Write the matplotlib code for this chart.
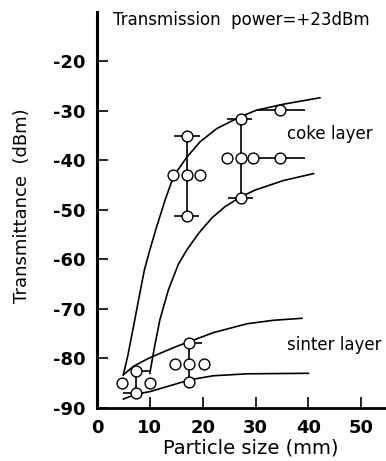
import matplotlib.pyplot as plt

plt.rcParams['axes.unicode_minus'] = False

# smooth curves
coke_upper_x = [4.98, 5.8, 6.9, 8.1, 8.96, 10.0, 11.3, 12.9, 14.5, 17.0, 19.5, 22.7, 26.8, 30.2, 35.3, 42.2]
coke_upper_y = [-83.3, -79.6, -73.6, -66.9, -62.2, -58.1, -53.4, -48.0, -43.2, -39.4, -36.3, -33.6, -31.4, -29.9, -28.7, -27.4]
coke_lower_x = [10.0, 10.9, 11.9, 13.5, 15.4, 17.0, 19.2, 21.7, 24.2, 27.2, 30.0, 35.3, 41.0]
coke_lower_y = [-83.0, -77.6, -72.2, -66.2, -61.0, -58.1, -54.8, -51.7, -49.4, -47.4, -46.0, -44.1, -42.7]
sinter_upper_x = [4.98, 6.9, 9.7, 13.2, 15.0, 17.5, 22.0, 28.4, 33.4, 38.8]
sinter_upper_y = [-83.3, -81.6, -80.0, -78.4, -77.6, -76.6, -74.8, -73.0, -72.3, -71.9]
sinter_lower_x = [5.0, 7.4, 10.0, 13.2, 17.6, 22.0, 28.4, 40.0]
sinter_lower_y = [-88.2, -87.2, -86.7, -85.7, -84.3, -83.5, -83.1, -83.0]

# measured points
coke_x = [14.4, 17.0, 19.5, 17.0, 17.0, 24.7, 27.2, 29.6, 34.7, 27.2, 27.2, 34.7]
coke_y = [-42.9, -42.9, -42.9, -35.2, -51.3, -39.5, -39.5, -39.5, -39.5, -31.6, -47.7, -29.9]
sinter_x = [4.7, 7.4, 10.0, 7.4, 14.8, 17.5, 20.3, 17.5, 17.5]
sinter_y = [-85.0, -82.6, -85.0, -87.0, -81.1, -81.1, -81.1, -76.9, -84.7]

# vertical range bars
range_x = [17.0, 27.2, 7.4, 17.5]
range_top = [-35.2, -31.6, -82.6, -76.9]
range_bot = [-51.3, -47.7, -87.0, -84.7]

# horizontal bars: start, end, level
hbar_x0 = [14.5, 14.6, 24.6, 24.8, 6.4, 4.9, 17.5, 29.6, 30.2]
hbar_x1 = [19.5, 19.3, 29.4, 29.6, 10.0, 8.7, 19.8, 39.4, 39.4]
hbar_y = [-35.2, -51.3, -31.6, -47.7, -82.6, -87.0, -76.9, -39.5, -29.9]

x_ticks = [0, 10, 20, 30, 40, 50]
y_ticks = [-90, -80, -70, -60, -50, -40, -30, -20]

fig = plt.figure(figsize=(3.86, 4.61), dpi=100)
ax = fig.add_axes([97 / 386, 53 / 461, 289 / 386, 396 / 461])

lw = 1.2
for xs, ys in [(coke_upper_x, coke_upper_y), (coke_lower_x, coke_lower_y),
               (sinter_upper_x, sinter_upper_y), (sinter_lower_x, sinter_lower_y)]:
    ax.plot(xs, ys, color='black', lw=lw, zorder=2)

ax.vlines(range_x, range_bot, range_top, color='black', lw=lw, zorder=2)
ax.hlines(hbar_y, hbar_x0, hbar_x1, color='black', lw=lw, zorder=2)

ax.plot(coke_x, coke_y, 'o', ms=7.8, mfc='white', mec='black', mew=1.0, zorder=3)
ax.plot(sinter_x, sinter_y, 'o', ms=7.8, mfc='white', mec='black', mew=1.0, zorder=3)

ax.text(36.0, -34.7, 'coke layer', fontsize=12, va='center')
ax.text(36.0, -77.3, 'sinter layer', fontsize=12, va='center')
ax.text(3.0, -11.8, 'Transmission  power=+23dBm', fontsize=12, va='center')

ax.set_xlim(0, 54.7)
ax.set_ylim(-90, -10.1)
ax.set_xticks(x_ticks)
ax.set_yticks(y_ticks)
ax.tick_params(direction='in', length=8, width=1.2, labelsize=13, pad=8)
for lab in ax.get_xticklabels() + ax.get_yticklabels():
    lab.set_fontweight('bold')
ax.spines['top'].set_visible(False)
ax.spines['right'].set_visible(False)
ax.spines['left'].set_linewidth(2.2)
ax.spines['bottom'].set_linewidth(2.0)

fig.text(22 / 386, 1 - 206 / 461, 'Transmittance  (dBm)', rotation=90,
         fontsize=13, ha='center', va='center')
fig.text(251 / 386, 1 - 448 / 461, 'Particle size (mm)', fontsize=14,
         ha='center', va='center')

fig.savefig('out.png', dpi=100)
